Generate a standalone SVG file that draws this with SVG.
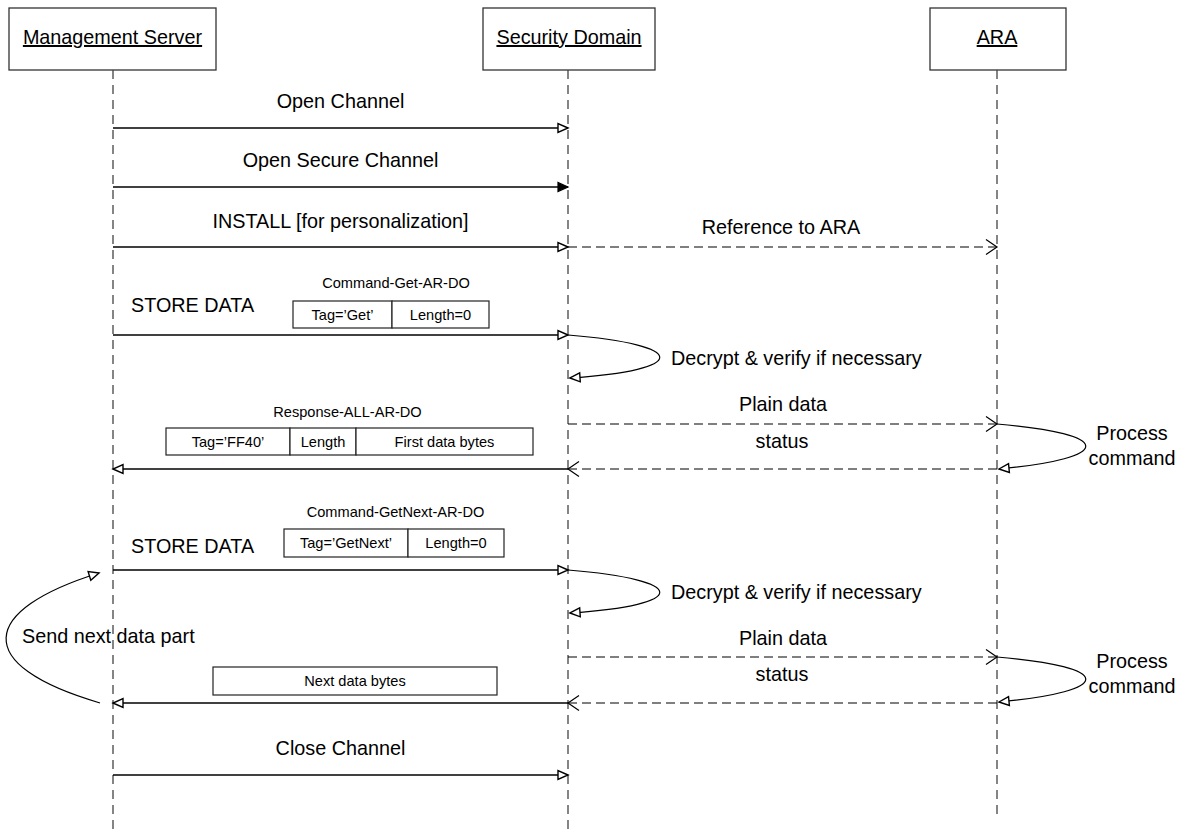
<svg xmlns="http://www.w3.org/2000/svg" width="1184" height="829" viewBox="0 0 1184 829">
<style>
text{font-family:"Liberation Sans",Arial,sans-serif;fill:#000}
.lbl{font-size:19.8px}
.sm{font-size:14.6px}
.mid{text-anchor:middle}
.box{fill:#fff;stroke:#333;stroke-width:1.3}
.life{stroke:#444;stroke-width:1.3;stroke-dasharray:9,6;fill:none}
.msg{stroke:#000;stroke-width:1.3;fill:none}
.dash{stroke:#000;stroke-width:1.2;fill:none;stroke-dasharray:9,5}
.cur{stroke:#000;stroke-width:1.2;fill:none}
.cell{fill:#fff;stroke:#222;stroke-width:1.2}
</style>
<defs>
<marker id="tri" markerUnits="userSpaceOnUse" viewBox="-12 -7 14 14" refX="0" refY="0" markerWidth="14" markerHeight="14" orient="auto">
<path d="M0,0 L-10,-4.5 L-10,4.5 Z" fill="#fff" stroke="#000" stroke-width="1.4"/>
</marker>
<marker id="triF" markerUnits="userSpaceOnUse" viewBox="-12 -7 14 14" refX="0" refY="0" markerWidth="14" markerHeight="14" orient="auto">
<path d="M0,0 L-10,-4.5 L-10,4.5 Z" fill="#000" stroke="#000" stroke-width="1.2"/>
</marker>
<marker id="vee" markerUnits="userSpaceOnUse" viewBox="-14 -10 16 20" refX="0" refY="0" markerWidth="16" markerHeight="20" orient="auto">
<path d="M-11,-7.5 L0,0 L-11,7.5" fill="none" stroke="#000" stroke-width="1.2"/>
</marker>
</defs>

<g id="node-management-server">
<rect class="box" x="9" y="8" width="207" height="62"/>
<text class="lbl mid" x="112.5" y="44" text-decoration="underline">Management Server</text>
<line class="life" x1="113" y1="70" x2="113" y2="829"/>
</g>
<g id="node-security-domain">
<rect class="box" x="483" y="8" width="172" height="62"/>
<text class="lbl mid" x="569" y="44" text-decoration="underline">Security Domain</text>
<line class="life" x1="568" y1="70" x2="568" y2="829"/>
</g>
<g id="node-ara">
<rect class="box" x="930" y="8" width="136" height="62"/>
<text class="lbl mid" x="997" y="44" text-decoration="underline">ARA</text>
<line class="life" x1="997" y1="70" x2="997" y2="814"/>
</g>

<g id="connectors">
<line class="msg" x1="113" y1="128" x2="568" y2="128" marker-end="url(#tri)"/>
<line class="msg" x1="113" y1="187" x2="568" y2="187" marker-end="url(#triF)"/>
<line class="msg" x1="113" y1="247" x2="568" y2="247" marker-end="url(#tri)"/>
<line class="dash" x1="568" y1="247" x2="997" y2="247" marker-end="url(#vee)"/>
<line class="msg" x1="113" y1="335" x2="568" y2="335" marker-end="url(#tri)"/>
<path class="cur" d="M568,335 C690,345 690,370 570,378" marker-end="url(#tri)"/>
<line class="dash" x1="568" y1="424" x2="997" y2="424" marker-end="url(#vee)"/>
<path class="cur" d="M997,424 C1115,434 1115,458 999,469" marker-end="url(#tri)"/>
<line class="dash" x1="997" y1="469" x2="568" y2="469" marker-end="url(#vee)"/>
<line class="msg" x1="568" y1="469" x2="113" y2="469" marker-end="url(#tri)"/>
<line class="msg" x1="113" y1="570" x2="568" y2="570" marker-end="url(#tri)"/>
<path class="cur" d="M568,570 C690,580 690,605 570,613" marker-end="url(#tri)"/>
<line class="dash" x1="568" y1="657" x2="997" y2="657" marker-end="url(#vee)"/>
<path class="cur" d="M997,657 C1115,667 1115,691 999,702" marker-end="url(#tri)"/>
<line class="dash" x1="997" y1="703" x2="568" y2="703" marker-end="url(#vee)"/>
<line class="msg" x1="568" y1="703" x2="113" y2="703" marker-end="url(#tri)"/>
<path class="cur" d="M100,703 C-30,665 -20,610 99,573" marker-end="url(#tri)"/>
<line class="msg" x1="113" y1="775" x2="568" y2="775" marker-end="url(#tri)"/>
</g>

<g id="labels">
<text class="lbl mid" x="340.5" y="108">Open Channel</text>
<text class="lbl mid" x="340.5" y="167">Open Secure Channel</text>
<text class="lbl mid" x="340.5" y="228">INSTALL [for personalization]</text>
<text class="lbl mid" x="781" y="234">Reference to ARA</text>
<text class="lbl" x="131" y="312">STORE DATA</text>
<text class="lbl" x="671" y="365">Decrypt &amp; verify if necessary</text>
<text class="lbl mid" x="783" y="411">Plain data</text>
<text class="lbl mid" x="782" y="448">status</text>
<text class="lbl mid" x="1132" y="440">Process</text>
<text class="lbl mid" x="1132" y="465">command</text>
<text class="lbl" x="131" y="553">STORE DATA</text>
<text class="lbl" x="671" y="599">Decrypt &amp; verify if necessary</text>
<text class="lbl mid" x="783" y="645">Plain data</text>
<text class="lbl mid" x="782" y="681">status</text>
<text class="lbl mid" x="1132" y="668">Process</text>
<text class="lbl mid" x="1132" y="693">command</text>
<text class="lbl" x="22" y="643">Send next data part</text>
<text class="lbl mid" x="340.5" y="755">Close Channel</text>
</g>

<g id="node-command-get-ar-do">
<text class="sm mid" x="396" y="288">Command-Get-AR-DO</text>
<rect class="cell" x="293" y="301" width="99" height="27"/>
<rect class="cell" x="392" y="301" width="97" height="27"/>
<text class="sm mid" x="342.5" y="320">Tag=’Get’</text>
<text class="sm mid" x="440.5" y="320">Length=0</text>
</g>
<g id="node-response-all-ar-do">
<text class="sm mid" x="347.5" y="417">Response-ALL-AR-DO</text>
<rect class="cell" x="166" y="428" width="124" height="27"/>
<rect class="cell" x="290" y="428" width="66" height="27"/>
<rect class="cell" x="356" y="428" width="177" height="27"/>
<text class="sm mid" x="228" y="447">Tag=’FF40’</text>
<text class="sm mid" x="323" y="447">Length</text>
<text class="sm mid" x="444.5" y="447">First data bytes</text>
</g>
<g id="node-command-getnext-ar-do">
<text class="sm mid" x="395.5" y="517">Command-GetNext-AR-DO</text>
<rect class="cell" x="284" y="529" width="124" height="28"/>
<rect class="cell" x="408" y="529" width="96" height="28"/>
<text class="sm mid" x="346" y="548">Tag=’GetNext’</text>
<text class="sm mid" x="456" y="548">Length=0</text>
</g>
<g id="node-next-data-bytes">
<rect class="cell" x="213" y="667" width="284" height="28"/>
<text class="sm mid" x="355" y="686">Next data bytes</text>
</g>
</svg>
